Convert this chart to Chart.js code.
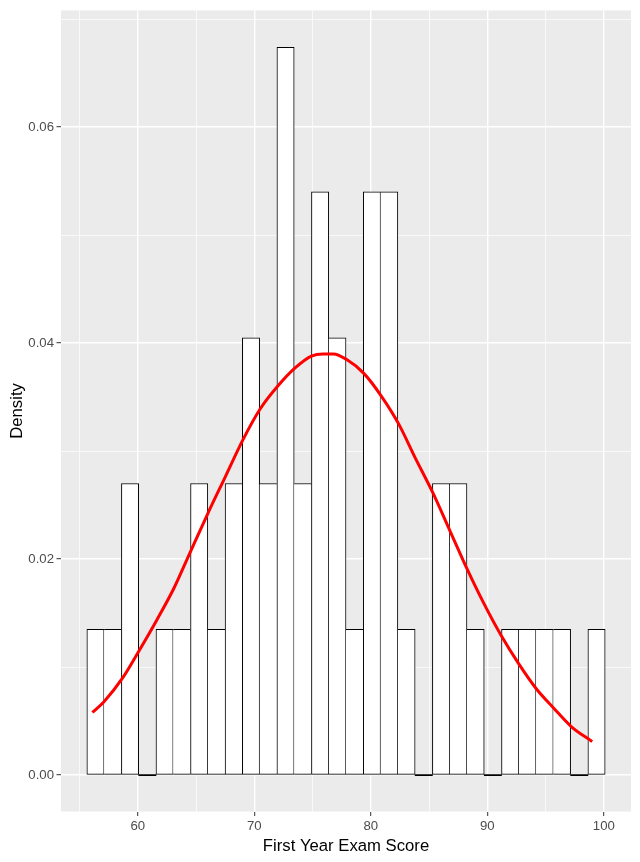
<!DOCTYPE html>
<html lang="en">
<head>
<meta charset="UTF-8">
<title>First Year Exam Score</title>
<style>
  body { margin: 0; background: #fff; }
</style>
<script src="https://cdn.jsdelivr.net/npm/chart.js"></script>
</head>
<body>
<canvas id="histChart" width="640" height="862"></canvas>
<script>
// histogram: 30 equal bins, density = count / (n * width), n = 50
const binStart = 55.63;
const binWidth = 1.4828;
const binDensity = [0.0135, 0.0135, 0.0270, 0, 0.0135, 0.0135, 0.0270, 0.0135, 0.0270, 0.0405,
                    0.0270, 0.0674, 0.0270, 0.0540, 0.0405, 0.0135, 0.0540, 0.0540, 0.0135, 0,
                    0.0270, 0.0270, 0.0135, 0, 0.0135, 0.0135, 0.0135, 0.0135, 0, 0.0135];

// red density curve
const curveX = [56.1, 57.1, 58.7, 60.1, 61.6, 63.1, 64.4, 66.0, 67.5, 69.0, 70.5, 72.0, 73.5, 74.9, 75.9,
                76.8, 77.9, 79.4, 80.9, 82.4, 83.8, 85.3, 86.8, 88.3, 89.7, 91.2, 92.7, 94.2, 95.7, 97.2, 99.0];
const curveY = [0.0058, 0.0068, 0.0090, 0.0115, 0.0143, 0.0173, 0.0204, 0.0242, 0.0276, 0.0310, 0.0339,
                0.0360, 0.0377, 0.0388, 0.0390, 0.0390, 0.0385, 0.0372, 0.0351, 0.0325, 0.0294, 0.0262,
                0.0226, 0.0190, 0.0159, 0.0129, 0.0103, 0.0080, 0.0062, 0.0045, 0.0031];

const xMajor = [60, 70, 80, 90, 100];
const xMinor = [55, 65, 75, 85, 95];
const yMajor = [0, 0.02, 0.04, 0.06];
const yMinor = [0.01, 0.03, 0.05, 0.07];

Chart.defaults.font.family = "'Liberation Sans', Arial, sans-serif";

const barData = binDensity.map((d, i) => ({ x: binStart + binWidth * (i + 0.5), y: d }));
const curveData = curveX.map((x, i) => ({ x: x, y: curveY[i] }));

// outline each bar like ggplot: shared edges drawn once, by the taller bar
function barBorder(ctx) {
    const i = ctx.dataIndex;
    const cur = binDensity[i];
    if (cur === 0) return 0;
    const prev = i > 0 ? binDensity[i - 1] : 0;
    const next = i < binDensity.length - 1 ? binDensity[i + 1] : 0;
    return { top: 1, bottom: 1, left: prev < cur ? 1 : 0, right: next <= cur ? 1 : 0 };
}

const panelBg = {
    id: 'panelBg',
    beforeDraw(chart) {
        const { ctx, chartArea: a } = chart;
        ctx.save();
        ctx.fillStyle = '#ebebeb';
        ctx.fillRect(a.left, a.top, a.right - a.left, a.bottom - a.top);
        ctx.restore();
    }
};

function gridOpts(major) {
    return {
        color: '#ffffff',
        lineWidth: c => major.includes(c.tick.value) ? 1.4 : 0.7,
        tickColor: c => major.includes(c.tick.value) ? '#333333' : 'rgba(0,0,0,0)',
        tickWidth: 1,
        tickLength: 4.5,
        offset: false
    };
}

new Chart(document.getElementById('histChart'), {
    type: 'bar',
    data: {
        datasets: [{
            type: 'bar',
            data: barData,
            order: 2,
            backgroundColor: c => binDensity[c.dataIndex] === 0 ? '#000000' : '#ffffff',
            borderColor: '#000000',
            borderWidth: barBorder,
            borderSkipped: false,
            minBarLength: 1,
            barPercentage: 1,
            categoryPercentage: 1
        }, {
            type: 'line',
            data: curveData,
            order: 1,
            borderColor: '#ff0000',
            borderWidth: 3,
            pointRadius: 0,
            cubicInterpolationMode: 'monotone',
            fill: false
        }]
    },
    options: {
        responsive: false,
        animation: false,
        layout: { padding: { top: 8, right: 9, left: 0, bottom: 0 } },
        plugins: { legend: { display: false }, tooltip: { enabled: false } },
        scales: {
            x: {
                type: 'linear',
                min: 53.41,
                max: 102.33,
                offset: false,
                afterBuildTicks: s => { s.ticks = xMinor.concat(xMajor).sort((a, b) => a - b).map(v => ({ value: v })); },
                afterFit: s => { s.height = 50.5; },
                grid: gridOpts(xMajor),
                border: { display: false },
                ticks: {
                    color: '#4d4d4d',
                    font: { size: 13.2 },
                    padding: 2,
                    maxRotation: 0,
                    autoSkip: false,
                    callback: v => xMajor.includes(v) ? String(v) : ''
                },
                title: {
                    display: true,
                    text: 'First Year Exam Score',
                    color: '#000000',
                    font: { size: 16.7 },
                    padding: { top: 0, bottom: 5.6 }
                }
            },
            y: {
                type: 'linear',
                min: -0.00337,
                max: 0.07081,
                afterBuildTicks: s => { s.ticks = yMinor.concat(yMajor).sort((a, b) => a - b).map(v => ({ value: v })); },
                afterFit: s => { s.width = 61; },
                grid: gridOpts(yMajor),
                border: { display: false },
                ticks: {
                    color: '#4d4d4d',
                    font: { size: 13.2 },
                    padding: 2.5,
                    autoSkip: false,
                    callback: v => yMajor.includes(v) ? v.toFixed(2) : ''
                },
                title: {
                    display: true,
                    text: 'Density',
                    color: '#000000',
                    font: { size: 16.7 },
                    padding: { top: 7, bottom: 0 }
                }
            }
        }
    },
    plugins: [panelBg]
});
</script>
</body>
</html>
